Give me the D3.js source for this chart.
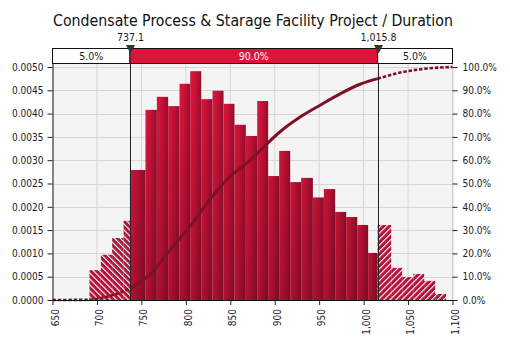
<!DOCTYPE html>
<html><head><meta charset="utf-8">
<script src="https://cdn.jsdelivr.net/npm/d3@7"></script>
<style>
body{margin:0;background:#fff;}
svg{display:block;}
text{font-family:"DejaVu Sans Condensed","DejaVu Sans",sans-serif;font-stretch:condensed;}
</style></head>
<body><svg id="c" width="510" height="347"></svg>
<script>
const title = "Condensate Process & Starage Facility Project / Duration";
const xTicks = [650,700,750,800,850,900,950,1000,1050,1100];
const yTicks = [0,0.0005,0.001,0.0015,0.002,0.0025,0.003,0.0035,0.004,0.0045,0.005];
const pTicks = [0,0.1,0.2,0.3,0.4,0.5,0.6,0.7,0.8,0.9,1.0];
const delimiters = [737.1, 1015.8];
const bandLabels = ["5.0%","90.0%","5.0%"];
// bin edges (left, right) and density heights
const binLeft  = [691.6,704.4,717.1,729.9, 737.1,754.6,767.4,780.1,792.9,804.9,817.3,830.0,842.4,854.7,867.5,880.3,892.6,905.0,917.4,929.8,942.9,955.3,968.0,980.4,992.8,1005.1, 1015.8,1031.0,1043.4,1055.8,1068.1,1080.5];
const binRight = [704.4,717.1,729.9,737.1, 754.6,767.4,780.1,792.9,804.9,817.3,830.0,842.4,854.7,867.5,880.3,892.6,905.0,917.4,929.8,942.9,955.3,968.0,980.4,992.8,1005.1,1015.8, 1031.0,1043.4,1055.8,1068.1,1080.5,1092.9];
const density  = [0.00064,0.00097,0.00133,0.00170, 0.00279,0.00408,0.00436,0.00416,0.00464,0.00491,0.00431,0.00449,0.00421,0.00376,0.00352,0.00427,0.00266,0.00320,0.00253,0.00262,0.00220,0.00238,0.00189,0.00178,0.00161,0.00101, 0.00161,0.00069,0.00049,0.00056,0.00041,0.00013];
// cumulative curve
const cumX = [650,691.6,704.4,717.1,729.9,737.1,760,782,805,827,850,868,884,906,929,951,974,996,1015.8,1041,1070,1100];
const cumP = [0,0.001,0.008,0.02,0.037,0.05,0.11,0.214,0.318,0.43,0.532,0.585,0.643,0.722,0.786,0.836,0.886,0.926,0.95,0.976,0.993,1.0];

const svg = d3.select("#c");
const L = 52.5, R = 452.5, T = 67, B = 300;
const x = d3.scaleLinear().domain([650,1100]).range([L,R]);
const y = d3.scaleLinear().domain([0,0.005]).range([B,T]);
const p = d3.scaleLinear().domain([0,1]).range([B,T]);

const defs = svg.append("defs");
const hg = defs.append("linearGradient").attr("id","hg").attr("x1",0).attr("x2",1).attr("y1",0).attr("y2",0);
hg.append("stop").attr("offset",0).attr("stop-color","#e0183f");
hg.append("stop").attr("offset",0.45).attr("stop-color","#cc1238");
hg.append("stop").attr("offset",1).attr("stop-color","#9c0e2e");
const vg = defs.append("linearGradient").attr("id","vg").attr("gradientUnits","userSpaceOnUse").attr("x1",0).attr("x2",0).attr("y1",T).attr("y2",B);
vg.append("stop").attr("offset",0).attr("stop-color","#000").attr("stop-opacity",0);
vg.append("stop").attr("offset",1).attr("stop-color","#000").attr("stop-opacity",0.22);
function hatch(id, dir){
  const pt = defs.append("pattern").attr("id",id).attr("patternUnits","userSpaceOnUse")
    .attr("width",4.2).attr("height",4.2).attr("patternTransform","rotate("+(dir*45)+")");
  pt.append("rect").attr("width",4.2).attr("height",4.2).attr("fill","#b3123a");
  pt.append("rect").attr("x",0).attr("width",1.1).attr("height",4.2).attr("fill","#fff");
}
hatch("hl",-1); hatch("hr",1);

// background and grid
svg.append("rect").attr("x",L).attr("y",64).attr("width",R-L).attr("height",B-64).attr("fill","#f4f4f4");
svg.append("g").selectAll("line").data(xTicks.slice(1)).join("line")
  .attr("x1",d=>x(d)).attr("x2",d=>x(d)).attr("y1",64).attr("y2",B).attr("stroke","#d6d6d6");
svg.append("g").selectAll("line").data(yTicks.slice(1)).join("line")
  .attr("x1",L).attr("x2",R).attr("y1",d=>Math.round(y(d))+0.5).attr("y2",d=>Math.round(y(d))+0.5).attr("stroke","#d6d6d6");

// bars
const bins = density.map((d,i)=>({x0:binLeft[i],x1:binRight[i],h:d}));
const gb = svg.append("g");
bins.forEach(b=>{
  const xa=x(b.x0), xb=x(b.x1), yt=y(b.h);
  let fill;
  if (b.x1 <= delimiters[0]) fill="url(#hl)";
  else if (b.x0 >= delimiters[1]) fill="url(#hr)";
  else fill="url(#hg)";
  gb.append("rect").attr("x",xa).attr("y",yt).attr("width",xb-xa).attr("height",B-yt).attr("fill",fill);
  if (fill==="url(#hg)")
    gb.append("rect").attr("x",xa).attr("y",yt).attr("width",xb-xa).attr("height",B-yt).attr("fill","url(#vg)");
});

// cumulative curve
const pts = cumX.map((v,i)=>[v,cumP[i]]);
const line = d3.line().x(d=>x(d[0])).y(d=>p(d[1])).curve(d3.curveMonotoneX);
const inner = pts.filter(d=>d[0]>=delimiters[0] && d[0]<=delimiters[1]);
const leftP = pts.filter(d=>d[0]<=delimiters[0]);
const rightP = pts.filter(d=>d[0]>=delimiters[1]);
svg.append("path").attr("d",line(leftP)).attr("fill","none").attr("stroke","#7e1029").attr("stroke-width",2.6).attr("stroke-dasharray","3.5,1.8");
svg.append("path").attr("d",line(rightP)).attr("fill","none").attr("stroke","#7e1029").attr("stroke-width",2.6).attr("stroke-dasharray","3.5,1.8");
svg.append("path").attr("d",line(inner)).attr("fill","none").attr("stroke","#7e1029").attr("stroke-width",3);

// delimiter lines
svg.append("g").selectAll("line").data(delimiters).join("line")
  .attr("x1",d=>Math.round(x(d))+0.5).attr("x2",d=>Math.round(x(d))+0.5).attr("y1",50).attr("y2",B).attr("stroke","#222");

// axes
const fs = "10px";
const gl = svg.append("g").attr("transform",`translate(${L},0)`)
  .call(d3.axisLeft(y).tickValues(yTicks).tickFormat(d3.format(".4f")).tickSize(5).tickSizeOuter(0));
const gr = svg.append("g").attr("transform",`translate(${R},0)`)
  .call(d3.axisRight(p).tickValues(pTicks).tickFormat(d3.format(".1%")).tickSize(5).tickSizeOuter(0));
const gx = svg.append("g").attr("transform",`translate(0,${B})`)
  .call(d3.axisBottom(x).tickValues(xTicks).tickFormat(d3.format(",")).tickSize(5).tickSizeOuter(0));
[gl,gr,gx].forEach(g=>{g.selectAll("text").attr("font-size",fs).attr("fill","#1a1a2a").style("font-family",'"DejaVu Sans Condensed","DejaVu Sans",sans-serif');
  g.selectAll(".tick line").attr("stroke","#222");});
gl.select(".domain").attr("stroke","#111").attr("d",`M0.5,64V${B}`);
gr.select(".domain").attr("stroke","#cfcfcf");
gx.select(".domain").attr("stroke","#111");
gl.selectAll("text").attr("x",-9);
gr.selectAll("text").attr("x",10);
gx.selectAll("text").attr("transform","rotate(-90)").attr("text-anchor","end")
  .attr("x",-9).attr("y",0).attr("dy","0.35em").attr("dx",0);
gx.selectAll(".tick text").attr("transform","translate(2,0) rotate(-90)");

// top band
const bandY = 48.5, bandH = 15;
const seg = [[650,delimiters[0]],[delimiters[0],delimiters[1]],[delimiters[1],1100]];
seg.forEach((s,i)=>{
  svg.append("rect").attr("x",x(s[0])).attr("y",bandY).attr("width",x(s[1])-x(s[0])).attr("height",bandH)
    .attr("fill", i===1 ? "#dc143c" : "#fff").attr("stroke","#111").attr("stroke-width",1);
  svg.append("text").attr("x",(x(s[0])+x(s[1]))/2).attr("y",bandY+11.3).attr("text-anchor","middle")
    .attr("font-size","10.5px").attr("fill", i===1 ? "#fff" : "#1a1a2a").text(bandLabels[i]);
});
// markers
delimiters.forEach(d=>{
  const cx = Math.round(x(d))+0.5;
  svg.append("path").attr("d",`M${cx-4.5},45L${cx+4.5},45L${cx},53.5Z`).attr("fill","#333");
  svg.append("text").attr("x",cx).attr("y",41).attr("text-anchor","middle").attr("font-size","10.5px").attr("fill","#1a1a2a")
    .text(d3.format(",.1f")(d));
});

// title
const tt = svg.append("text").attr("x",253).attr("y",26).attr("text-anchor","middle").attr("font-size","17px").attr("fill","#111").text(title);
const w = tt.node().getComputedTextLength();
tt.attr("font-size",(17*400/w).toFixed(2)+"px");
</script></body></html>
